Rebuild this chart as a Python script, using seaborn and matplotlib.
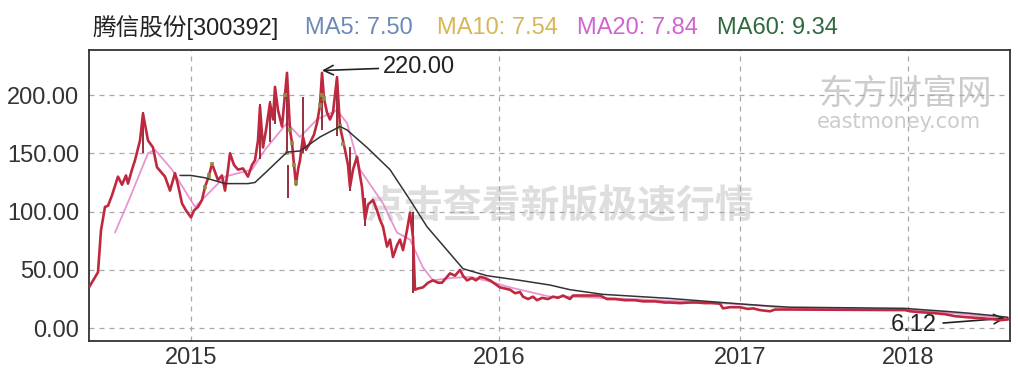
import matplotlib
matplotlib.use("Agg")
import matplotlib.pyplot as plt
import seaborn as sns
import numpy as np
import pandas as pd

# ---------------- data ----------------
# trading-day index (horizontal position) and closing price
day = [0, 9, 12, 16, 19, 23, 29, 33, 37, 39, 43, 46, 51, 54, 57, 59, 64, 68, 72, 76, 81, 86, 89, 93,
       97, 102, 105, 109, 113, 116, 120, 123, 126, 129, 133, 136, 139, 141, 145, 149, 154, 159, 163,
       166, 169, 171, 174, 177, 181, 184, 186, 189, 193, 196, 198, 201, 203, 205, 207, 209, 211, 214,
       217, 221, 225, 228, 231, 233, 235, 238, 241, 244, 248, 251, 254, 256, 259, 261, 264, 268, 271,
       273, 276, 279, 284, 288, 291, 294, 298, 301, 304, 308, 311, 314, 318, 321, 324, 326, 329, 334,
       339, 344, 349, 353, 357, 361, 366, 371, 374, 378, 383, 387, 391, 396, 401, 406, 411, 416, 421,
       426, 431, 434, 439, 444, 448, 453, 459, 464, 469, 474, 481, 484, 491, 501, 511, 518, 526, 536,
       546, 554, 566, 576, 581, 591, 601, 608, 616, 623, 631, 634, 641, 651, 659, 664, 671, 681, 686,
       701, 816, 821, 831, 844, 856, 866, 878, 891, 904, 911, 919]
close = [35, 48, 84, 104, 105, 114, 130, 123, 131, 124, 136, 144, 161, 184, 170, 161, 155, 138, 134,
         130, 118, 133, 123, 107, 101, 95, 101, 104, 110, 121, 131, 141, 134, 127, 131, 118, 136, 150,
         140, 136, 137, 130, 140, 144, 161, 190, 155, 170, 193, 179, 207, 187, 173, 200, 219, 170, 159,
         140, 123, 136, 144, 164, 153, 159, 166, 176, 191, 219, 197, 185, 179, 185, 215, 173, 161, 153,
         140, 121, 136, 147, 131, 121, 93, 106, 110, 101, 93, 87, 70, 76, 61, 71, 76, 67, 84, 99, 78,
         33, 34, 35, 39, 41, 39, 39, 43, 47, 45, 50, 45, 41, 43, 41, 44, 43, 41, 38, 35, 34, 33, 30,
         31, 27, 25, 27, 24, 26, 25, 27, 26, 28, 25, 28, 28, 28, 28, 25, 25, 24, 24, 23, 23, 22, 22,
         21.5, 22, 22, 21.5, 21.5, 21, 17, 18, 18, 16.5, 17, 15.5, 14.5, 16, 16, 15.5, 14.5, 13.7, 13,
         12, 10.3, 9.4, 8.6, 7.7, 6.9, 7.5]

# long wicks (day, low, high)
wick_day = [54, 171, 181, 186, 198, 199, 214, 233, 248, 261, 276, 324]
wick_low = [150, 145, 160, 175, 150, 112, 150, 170, 165, 118, 88, 30]
wick_high = [185, 192, 195, 208, 219, 140, 198, 220, 216, 155, 112, 100]

# falling candles drawn in olive/green
down_day = [116, 120, 123, 196, 198, 201, 203, 205, 207, 231, 233, 235, 251, 254]
down_close = [121, 131, 141, 200, 150, 170, 159, 140, 125, 191, 200, 197, 173, 158]

# MA60 (black smooth line)
ma60_day = [91, 102, 116, 136, 159, 166, 176, 198, 211, 231, 251, 258, 278, 301, 321, 338, 361, 374,
            398, 431, 461, 481, 514, 581, 648, 681, 701, 816, 831, 856, 878, 904, 919]
ma60 = [131, 131, 129, 124, 124, 125, 133, 151, 152, 164, 173, 170, 155, 136, 110, 87, 64, 51, 45, 41,
        37, 33, 29, 25.5, 21, 19, 18, 17, 16, 14.5, 13, 10.8, 9.3]

# MA20 (pink line)
ma20_day = [26, 40, 59, 66, 83, 106, 136, 163, 176, 198, 211, 228, 248, 258, 271, 294, 308, 321, 334,
            344, 361, 381, 401, 421, 441, 461, 481, 511, 541, 581, 621, 661, 701, 816, 851, 881, 919]
ma20 = [82, 110, 150, 153, 136, 104, 130, 136, 153, 176, 164, 179, 187, 176, 136, 107, 82, 76, 52, 41,
        43, 44, 40, 35, 31, 27, 27, 26, 25, 23.5, 22, 20, 17, 16, 14, 11.5, 8.5]

yticks = [0, 50, 100, 150, 200]
ytick_labels = ["0.00", "50.00", "100.00", "150.00", "200.00"]
xticks = [102, 410, 651, 819]
xtick_labels = ["2015", "2016", "2017", "2018"]

title = "腾信股份[300392]"
legend_names = ["MA5: 7.50", "MA10: 7.54", "MA20: 7.84", "MA60: 9.34"]
legend_colors = ["#6a8bb8", "#d8b653", "#d064d0", "#2f6a3e"]

peak_label, peak_day, peak_val = "220.00", 233, 220
low_label, low_day, low_val = "6.12", 916, 6.12

# ---------------- drawing ----------------
sns.set_style("white")
plt.rcParams["font.family"] = ["Liberation Sans", "Noto Sans CJK SC", "DejaVu Sans"]

fig = plt.figure(figsize=(10.18, 3.82), dpi=100)
ax = fig.add_axes([89 / 1018, 1 - 341 / 382, 921 / 1018, 291 / 382])

# watermarks
ax.text(471, 104, "点击查看新版极速行情", fontsize=28, color="#dedede", ha="center", va="center",
        family=["Noto Sans CJK SC"], fontweight="bold", zorder=0)
ax.text(816, 201, "东方财富网", fontsize=25, color="#cccccc", ha="center", va="center",
        family=["Noto Sans CJK SC"], zorder=0)
ax.text(810, 177, "eastmoney.com", fontsize=15, color="#cccccc", ha="center", va="center",
        family=["DejaVu Sans"], zorder=0)

df_price = pd.DataFrame({"day": day, "close": close})
df_ma60 = pd.DataFrame({"day": ma60_day, "v": ma60})
df_ma20 = pd.DataFrame({"day": ma20_day, "v": ma20})
df_down = pd.DataFrame({"day": down_day, "close": down_close})

ax.vlines(wick_day, wick_low, wick_high, color="#8c1f30", lw=1.3, zorder=3)
sns.lineplot(data=df_ma20, x="day", y="v", ax=ax, color="#e27ac6", lw=1.3, alpha=0.8, zorder=2)
sns.lineplot(data=df_price, x="day", y="close", ax=ax, color="#c0283f", lw=1.9, zorder=4)
sns.scatterplot(data=df_down, x="day", y="close", ax=ax, color="#8a9a45", s=9, marker="s",
                edgecolor="none", alpha=0.85, zorder=5)
sns.lineplot(data=df_ma60, x="day", y="v", ax=ax, color="#333333", lw=1.1, zorder=6)

ax.set_xlim(0, 921)
ax.set_ylim(-11, 238.6)
ax.set_yticks(yticks)
ax.set_yticklabels(ytick_labels)
ax.set_xticks(xticks)
ax.set_xticklabels(xtick_labels)
ax.set_xlabel("")
ax.set_ylabel("")
ax.tick_params(axis="both", length=0, labelsize=17, colors="#333333")
ax.tick_params(axis="y", pad=7)
ax.tick_params(axis="x", pad=4)
ax.grid(True, color="#a8a8a8", linestyle=(0, (4, 4)), lw=0.9)
for s in ax.spines.values():
    s.set_color("#333333")
    s.set_linewidth(1.3)
    s.set_visible(True)

ax.annotate(peak_label, xy=(peak_day, peak_val + 1), xytext=(294, 224), fontsize=17, color="#222222",
            va="center", ha="left",
            arrowprops=dict(arrowstyle="->", color="#222222", lw=1.2, shrinkA=1, shrinkB=0))
ax.annotate(low_label, xy=(low_day, 8.5), xytext=(848, 2.5), fontsize=17, color="#222222",
            va="center", ha="right",
            arrowprops=dict(arrowstyle="->", color="#222222", lw=1.2, shrinkA=2, shrinkB=0))

# header
fig.text(92 / 1018, 1 - 28 / 382, title, fontsize=17, color="#222222", va="center", ha="left")
legend_x = [305, 437, 577, 717]
for name, col, lx in zip(legend_names, legend_colors, legend_x):
    fig.text(lx / 1018, 1 - 28 / 382, name, fontsize=17, color=col, va="center", ha="left")

fig.savefig("out.png", dpi=100, facecolor="white")
